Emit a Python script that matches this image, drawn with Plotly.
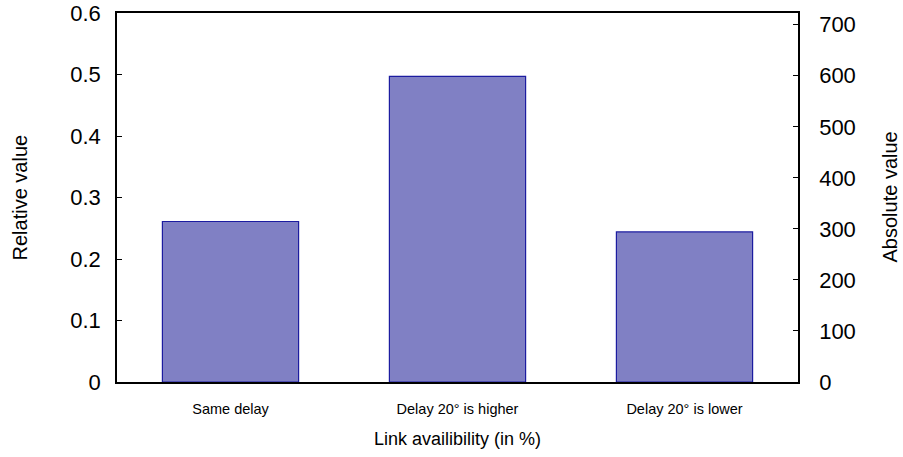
import plotly.graph_objects as go

categories = ["Same delay", "Delay 20° is higher", "Delay 20° is lower"]
relative_values = [0.261, 0.497, 0.244]
absolute_values = [314, 598, 293]
left_ticks = [0, 0.1, 0.2, 0.3, 0.4, 0.5, 0.6]
left_tick_labels = ["0", "0.1", "0.2", "0.3", "0.4", "0.5", "0.6"]
right_ticks = [0, 100, 200, 300, 400, 500, 600, 700]

FONT = "Liberation Sans, Arial, sans-serif"

fig = go.Figure()
fig.add_trace(go.Bar(
    x=categories, y=relative_values, width=0.6,
    marker=dict(color="#8080c4", line=dict(color="#1c1ca0", width=1.2)),
    showlegend=False, hoverinfo="skip",
))
fig.add_trace(go.Scatter(
    x=categories, y=absolute_values, yaxis="y2", mode="markers",
    marker=dict(opacity=0), showlegend=False, hoverinfo="skip",
))

W, H = 903, 457
L, R, T, B = 117, 105, 13, 75

fig.update_layout(
    width=W, height=H,
    margin=dict(l=L, r=R, t=T, b=B, pad=0, autoexpand=False),
    paper_bgcolor="white", plot_bgcolor="white",
    font=dict(family=FONT, color="black"),
    xaxis=dict(
        type="category", range=[-0.5, 2.5], automargin=False,
        showline=True, linecolor="black", linewidth=1.5, mirror=True,
        ticks="", showgrid=False, zeroline=False,
        tickfont=dict(size=14.5, family=FONT), ticklabelstandoff=13,
    ),
    yaxis=dict(
        range=[0, 0.6], tickvals=left_ticks, ticktext=left_tick_labels,
        automargin=False, ticklabeloverflow="allow",
        showline=True, linecolor="black", linewidth=1.5,
        ticks="inside", ticklen=5, tickcolor="black",
        showgrid=False, zeroline=False,
        tickfont=dict(size=22, family=FONT), ticklabelstandoff=10,
    ),
    yaxis2=dict(
        overlaying="y", side="right", range=[0, 723], tickvals=right_ticks,
        automargin=False, ticklabeloverflow="allow",
        showline=True, linecolor="black", linewidth=1.5,
        ticks="inside", ticklen=5, tickcolor="black",
        showgrid=False, zeroline=False,
        tickfont=dict(size=22, family=FONT), ticklabelstandoff=15,
    ),
    annotations=[
        dict(text="Relative value", xref="paper", yref="paper", x=0, y=0.5,
             xshift=-98, textangle=-90, showarrow=False,
             xanchor="center", yanchor="middle", font=dict(size=20, family=FONT)),
        dict(text="Absolute value", xref="paper", yref="paper", x=1, y=0.5,
             xshift=91, textangle=-90, showarrow=False,
             xanchor="center", yanchor="middle", font=dict(size=20, family=FONT)),
        dict(text="Link availibility (in %)", xref="paper", yref="paper", x=0.5, y=0,
             yshift=-57, showarrow=False,
             xanchor="center", yanchor="middle", font=dict(size=18, family=FONT)),
    ],
)

fig.write_html(
    "out.html",
    config={"displayModeBar": False},
    post_script="document.body.style.margin='0';document.body.style.overflow='hidden';",
)
